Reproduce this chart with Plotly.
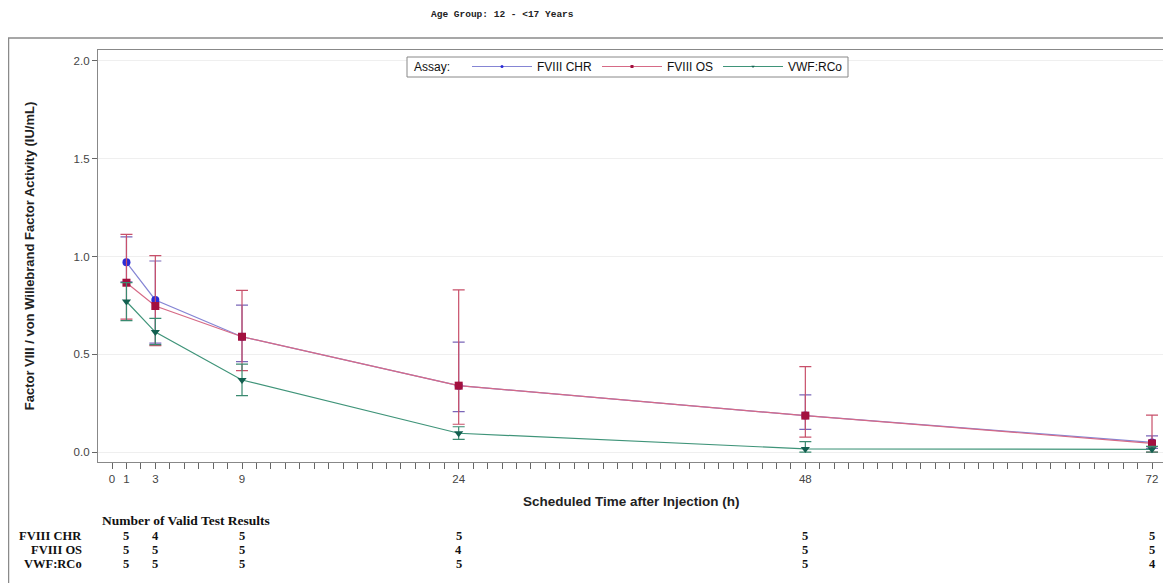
import plotly.graph_objects as go

# ---- data ----
times = [1, 3, 9, 24, 48, 72]
tick_labels = {0: "0", 1: "1", 3: "3", 9: "9", 24: "24", 48: "48", 72: "72"}

chr_mean = [0.97, 0.778, 0.59, 0.34, 0.187, 0.05]
chr_upper = [1.10, 0.977, 0.752, 0.562, 0.293, 0.083]
chr_lower = [0.87, 0.557, 0.463, 0.207, 0.117, 0.02]

os_mean = [0.866, 0.747, 0.59, 0.34, 0.187, 0.045]
os_upper = [1.113, 1.004, 0.827, 0.829, 0.437, 0.19]
os_lower = [0.68, 0.545, 0.417, 0.143, 0.077, 0.0]

vwf_mean = [0.77, 0.614, 0.369, 0.097, 0.017, 0.015]
vwf_upper = [0.866, 0.684, 0.45, 0.13, 0.054, 0.03]
vwf_lower = [0.672, 0.55, 0.289, 0.066, 0.0, 0.0]

n_chr = [5, 4, 5, 5, 5, 5]
n_os = [5, 5, 5, 4, 5, 5]
n_vwf = [5, 5, 5, 5, 5, 4]

series_names = ["FVIII CHR", "FVIII OS", "VWF:RCo"]

# ---- styles ----
styles = {
    "FVIII CHR": dict(line="#8585d4", err="#7a66b8", marker="#2b2bd6", symbol="circle", size=8),
    "FVIII OS": dict(line="#d66a86", err="#c8506a", marker="#a3103f", symbol="square", size=8),
    "VWF:RCo": dict(line="#3f9479", err="#3a8a70", marker="#136050", symbol="triangle-down", size=8),
}

data = {
    "FVIII CHR": (chr_mean, chr_upper, chr_lower),
    "FVIII OS": (os_mean, os_upper, os_lower),
    "VWF:RCo": (vwf_mean, vwf_upper, vwf_lower),
}

fig = go.Figure()

for name in series_names:
    m, up, lo = data[name]
    s = styles[name]
    fig.add_trace(go.Scatter(
        x=times, y=m, mode="lines+markers", name=name, showlegend=False,
        line=dict(color=s["line"], width=1.2),
        marker=dict(color=s["marker"], symbol=s["symbol"], size=s["size"]),
        error_y=dict(type="data", symmetric=False,
                     array=[u - v for u, v in zip(up, m)],
                     arrayminus=[v - l for v, l in zip(m, lo)],
                     color=s["err"], thickness=1.2, width=6),
    ))

# legend entries (small markers like the original)
for name in series_names:
    s = styles[name]
    fig.add_trace(go.Scatter(
        x=[None], y=[None], mode="lines+markers", name=name,
        line=dict(color=s["line"], width=1.2),
        marker=dict(color=s["marker"], symbol=s["symbol"], size=3),
    ))

# ---- layout geometry (page has an 8px body margin) ----
OFF = 8
W, H = 1171 - OFF, 583 - OFF
L, T = 98 - OFF, 50 - OFF
R = W - (1164 - OFF)
B = H - (462 - OFF)
pw, ph = W - L - R, H - T - B

def px_x(px):
    return (px - OFF - L) / pw

def px_y(py):
    return (H - B - (py - OFF)) / ph

annotations = []
# title
annotations.append(dict(text="<b>Age Group: 12 - &lt;17 Years</b>", xref="paper", yref="paper",
                        x=px_x(502), y=px_y(14), xanchor="center", yanchor="middle", showarrow=False,
                        font=dict(family="Liberation Mono", size=9.5, color="#222")))
# x axis title
annotations.append(dict(text="<b>Scheduled Time after Injection (h)</b>", xref="paper", yref="paper",
                        x=0.5, y=px_y(501), xanchor="center", yanchor="middle", showarrow=False,
                        font=dict(family="Liberation Sans", size=13.5, color="#222")))
# legend label
annotations.append(dict(text="Assay:", xref="paper", yref="paper",
                        x=px_x(412), y=px_y(67), xanchor="left", yanchor="middle", showarrow=False,
                        font=dict(family="Liberation Sans", size=12, color="#111")))
# table
tfont = dict(family="Liberation Serif", size=12.5, color="#111")
annotations.append(dict(text="<b>Number of Valid Test Results</b>", xref="paper", yref="paper",
                        x=px_x(100), y=px_y(520), xanchor="left", yanchor="middle", showarrow=False,
                        font=dict(family="Liberation Serif", size=13.5, color="#111")))
rows = [("FVIII CHR", n_chr, 536), ("FVIII OS", n_os, 550), ("VWF:RCo", n_vwf, 564)]
for label, counts, ypix in rows:
    annotations.append(dict(text="<b>" + label + "</b>", xref="paper", yref="paper",
                            x=px_x(84), y=px_y(ypix), xanchor="right", yanchor="middle",
                            showarrow=False, font=tfont))
    for t, c in zip(times, counts):
        annotations.append(dict(text="<b>%d</b>" % c, xref="x", yref="paper",
                                x=t, y=px_y(ypix), xanchor="center", yanchor="middle",
                                showarrow=False, font=tfont))

shapes = [
    dict(type="rect", xref="paper", yref="paper",
         x0=px_x(8.5), x1=px_x(1168), y0=px_y(600), y1=px_y(38),
         line=dict(color="#8a8a8a", width=1.5), fillcolor="rgba(0,0,0,0)", layer="below"),
    dict(type="rect", xref="paper", yref="paper",
         x0=px_x(407), x1=px_x(848), y0=px_y(77), y1=px_y(57),
         line=dict(color="#888", width=1), fillcolor="white", layer="above"),
]

fig.update_layout(
    width=W, height=H,
    margin=dict(l=L, r=R, t=T, b=B, autoexpand=False),
    paper_bgcolor="white", plot_bgcolor="white",
    font=dict(family="Liberation Sans", size=11, color="#333"),
    annotations=annotations, shapes=shapes,
    legend=dict(orientation="h", x=px_x(467), xanchor="left", y=px_y(52), yanchor="top",
                borderwidth=0, bgcolor="rgba(0,0,0,0)", itemwidth=60,
                font=dict(size=12, color="#111"), tracegroupgap=0),
    xaxis=dict(range=[-0.97, 72.83], tickvals=list(tick_labels.keys()),
               ticktext=list(tick_labels.values()),
               ticks="outside", ticklen=6, tickcolor="#666", showgrid=False, zeroline=False,
               minor=dict(dtick=1, tick0=0, ticks="outside", ticklen=6, tickcolor="#666", showgrid=False),
               showline=True, linecolor="#888", linewidth=1.2, mirror=True,
               tickfont=dict(size=11.5, color="#444")),
    yaxis=dict(range=[-0.05, 2.055], tickvals=[0, 0.5, 1.0, 1.5, 2.0],
               tickformat=".1f", ticks="outside", ticklen=5, tickcolor="#666",
               showgrid=True, gridcolor="#efefef", gridwidth=1, zeroline=False,
               showline=True, linecolor="#888", linewidth=1.2, mirror=True,
               tickfont=dict(size=11.5, color="#444"),
               title=dict(text="<b>Factor VIII / von Willebrand Factor Activity (IU/mL)</b>",
                          font=dict(size=13, color="#222"), standoff=36)),
)

fig.write_html("out.html")
